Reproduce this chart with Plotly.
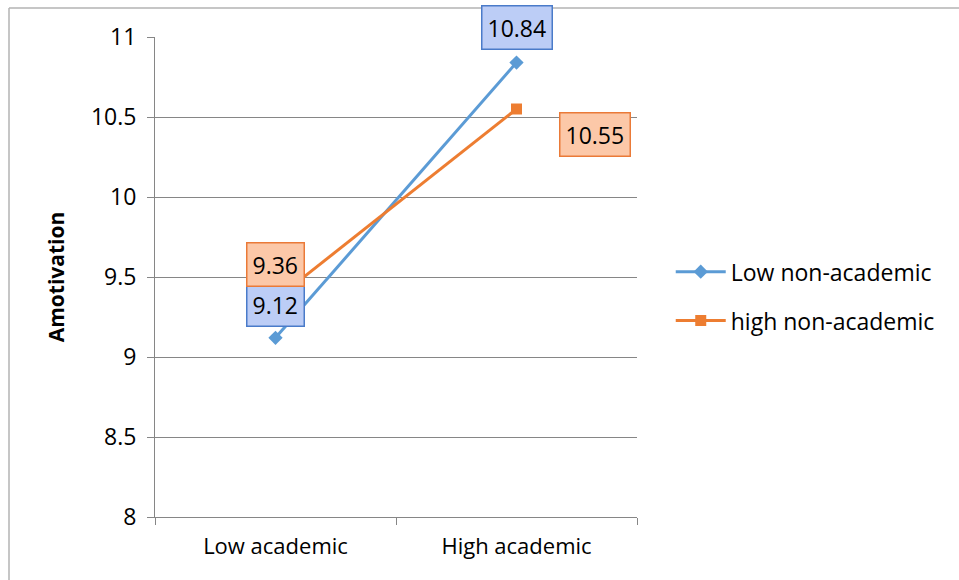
import plotly.graph_objects as go

categories = ["Low academic", "High academic"]
low_nonacademic = [9.12, 10.84]
high_nonacademic = [9.36, 10.55]
series_names = ["Low non-academic", "high non-academic"]
y_ticks = [8, 8.5, 9, 9.5, 10, 10.5, 11]
y_title = "Amotivation"

BLUE = "#5b9bd5"
ORANGE = "#ed7d31"
FONT = "Open Sans"

fig = go.Figure()
fig.add_trace(go.Scatter(x=categories, y=low_nonacademic, name=series_names[0],
                         mode="lines+markers", legendgroup="a",
                         line=dict(color=BLUE, width=3),
                         marker=dict(symbol="diamond", size=11, color=BLUE)))
fig.add_trace(go.Scatter(x=categories, y=high_nonacademic, name=series_names[1],
                         mode="lines+markers", legendgroup="b",
                         line=dict(color=ORANGE, width=3),
                         marker=dict(symbol="square", size=11, color=ORANGE)))

blue_box = dict(bgcolor="#bccdf6", bordercolor="#4a7bc9")
orange_box = dict(bgcolor="#fcc8a8", bordercolor="#ea7a38")
labels = [
    (categories[0], low_nonacademic[0], 0, 33, blue_box),
    (categories[1], low_nonacademic[1], 0, 35, blue_box),
    (categories[0], high_nonacademic[0], 0, 35, orange_box),
    (categories[1], high_nonacademic[1], 78, -25, orange_box),
]
for x, y, xs, ys, st in labels:
    fig.add_annotation(x=x, y=y, xref="x", yref="y", text=f"{y:.2f}",
                       showarrow=False, xshift=xs, yshift=ys,
                       font=dict(family=FONT, size=23, color="#000000"),
                       bgcolor=st["bgcolor"], bordercolor=st["bordercolor"],
                       borderwidth=1.5, borderpad=5)

# outer chart frame (only top and left edges visible)
fig.add_shape(type="line", xref="paper", yref="paper",
              x0=(9 - 155) / 482, x1=(960 - 155) / 482,
              y0=(517 - 8) / 480, y1=(517 - 8) / 480,
              line=dict(color="#b3b3b3", width=1.5))
fig.add_shape(type="line", xref="paper", yref="paper",
              x0=(9 - 155) / 482, x1=(9 - 155) / 482,
              y0=(517 - 8) / 480, y1=(517 - 585) / 480,
              line=dict(color="#b3b3b3", width=1.5))

fig.update_layout(
    width=959, height=580,
    margin=dict(l=155, r=322, t=37, b=63),
    paper_bgcolor="white", plot_bgcolor="white",
    font=dict(family=FONT, color="#000000"),
    legend=dict(x=1.07, y=0.46, xanchor="left", yanchor="middle",
                font=dict(family=FONT, size=23), tracegroupgap=16,
                itemwidth=50, bgcolor="rgba(0,0,0,0)"),
    showlegend=True,
)
fig.update_xaxes(type="category", tickson="boundaries", ticks="outside", ticklen=7,
                 tickcolor="#868686", showgrid=False, showline=True,
                 linecolor="#868686", linewidth=1, ticklabelstandoff=10,
                 tickfont=dict(family=FONT, size=22), range=[-0.5, 1.5])
fig.update_yaxes(range=[8, 11], tickvals=y_ticks, ticktext=[f"{v:g}" for v in y_ticks],
                 ticks="outside", ticklen=7, tickcolor="#868686",
                 showgrid=True, gridcolor="#868686", gridwidth=1,
                 showline=True, linecolor="#868686", linewidth=1, zeroline=False,
                 ticklabelstandoff=6,
                 tickfont=dict(family=FONT, size=23),
                 title=dict(text=f"<b>{y_title}</b>", font=dict(family=FONT, size=21),
                            standoff=20))

fig.write_html("out.html")
